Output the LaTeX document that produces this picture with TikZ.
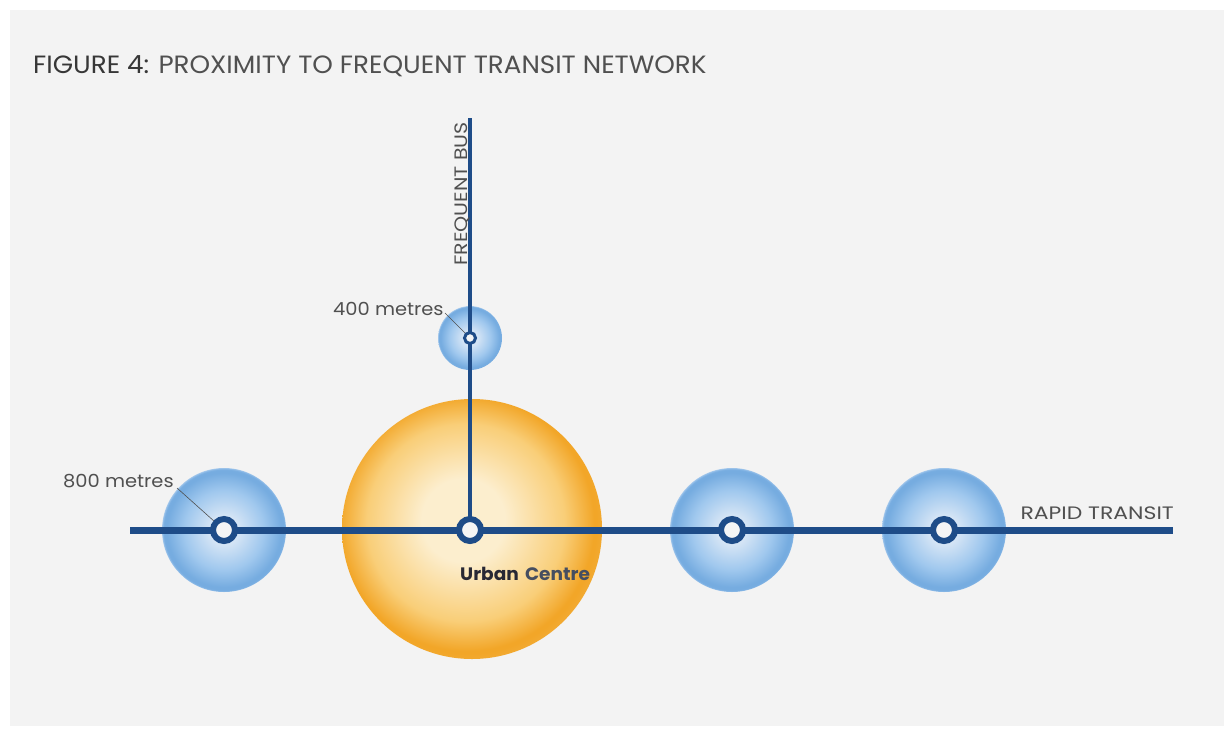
\documentclass[tikz,border=0pt]{standalone}
\usepackage{fontspec}
\setmainfont{Poppins}
\usetikzlibrary{calc}
\definecolor{bgc}{RGB}{243,243,243}
\definecolor{linec}{RGB}{30,76,136}
\definecolor{textc}{RGB}{80,80,80}
\definecolor{titledark}{RGB}{55,55,55}
\definecolor{urbanc}{RGB}{40,40,52}
\definecolor{centrec}{RGB}{70,78,96}
\definecolor{bl0}{RGB}{212,228,245}
\definecolor{bl1}{RGB}{160,200,238}
\definecolor{bl2}{RGB}{118,172,224}
\definecolor{bl3}{RGB}{150,192,234}
\pgfdeclareradialshading{bluesoft}{\pgfpointorigin}{%
  color(0bp)=(bl0); color(6bp)=(bl0); color(16bp)=(bl1);
  color(23bp)=(bl2); color(24.3bp)=(bl2); color(25bp)=(bl3); color(26bp)=(bgc); color(50bp)=(bgc)}
\definecolor{or0}{RGB}{252,238,206}
\definecolor{or1}{RGB}{249,206,120}
\definecolor{or2}{RGB}{242,166,40}
\pgfdeclareradialshading{orangeball}{\pgfpoint{-2bp}{2bp}}{%
  color(0bp)=(or0); color(8bp)=(or0); color(19bp)=(or1);
  color(24.5bp)=(or2); color(25bp)=(or2); color(50bp)=(bgc)}
\tikzset{
  zone/.style={circle, inner sep=0pt, minimum size=#1, shading=bluesoft},
  hub/.style={circle, inner sep=0pt, minimum size=260pt, shading=orangeball},
  transitline/.style={draw=linec, line width=7pt},
  busline/.style={draw=linec, line width=4pt},
  station/.style={circle, draw=linec, fill=white!92!gray, line width=6pt, inner sep=0pt, minimum size=22pt},
  smallstation/.style={circle, draw=linec, fill=white!92!gray, line width=3pt, inner sep=0pt, minimum size=11pt},
  leader/.style={draw=textc, line width=0.6pt},
  lbl/.style={text=textc, font=\fontsize{18}{21}\selectfont, inner sep=0pt},
}
\newcommand{\wm}[1]{\scalebox{1.08}[1]{#1}}
\newcommand{\wc}[1]{\scalebox{1.22}[1]{#1}}
\newcommand{\wb}[1]{\scalebox{1.14}[1]{#1}}
\begin{document}
\begin{tikzpicture}[x=1pt,y=-1pt]
\useasboundingbox (0,0) rectangle (1231,731);
\fill[white] (0,0) rectangle (1231,731);
\fill[bgc] (10,10) rectangle (1224,726);
% zones
\node[zone=124pt] (z1) at (224,530) {};
\node[hub] (hub) at (472,529) {};
\node[zone=124pt] (z3) at (732,530) {};
\node[zone=124pt] (z4) at (944,530) {};
\node[zone=64pt] (z0) at (470,338) {};
% lines
\coordinate (lw) at (130,530);
\coordinate (le) at (1173,530);
\coordinate (top) at (470,118);
\draw[transitline] (lw) -- (le);
\draw[busline] (top) -- (470,530);
% stations
\node[station] (s1) at (224,530) {};
\node[station] (s2) at (470,530) {};
\node[station] (s3) at (732,530) {};
\node[station] (s4) at (944,530) {};
\node[smallstation] (s0) at (470,338) {};
% labels
\node[lbl, anchor=base west] (l400) at (333,315) {\wm{400 metres}};
\node[lbl, anchor=base west] (l800) at (63,487) {\wm{800 metres}};
\coordinate (l400e) at (445,313);
\coordinate (l800e) at (177,488);
\draw[leader] (l400e) -- (s0);
\draw[leader] (l800e) -- (s1);
\node[lbl, anchor=base east] (rt) at (1174,519) {\wc{RAPID TRANSIT}};
\node[lbl, anchor=base west, rotate=90] (fb) at (467,266) {\wb{FREQUENT BUS}};
\node[anchor=base west, inner sep=0pt, font=\fontsize{18}{21}\selectfont\bfseries] (uc) at (460,580) {\scalebox{1.03}[1]{\textcolor{urbanc}{Urban}\hspace{0.12em} \textcolor{centrec}{Centre}}};
\node[anchor=base west, inner sep=0pt, font=\fontsize{25}{29}\selectfont] (title) at (33,73) {\scalebox{1.047}[1]{\textcolor{titledark}{FIGURE 4:} \textcolor{textc}{PROXIMITY TO FREQUENT TRANSIT NETWORK}}};
\end{tikzpicture}
\end{document}
